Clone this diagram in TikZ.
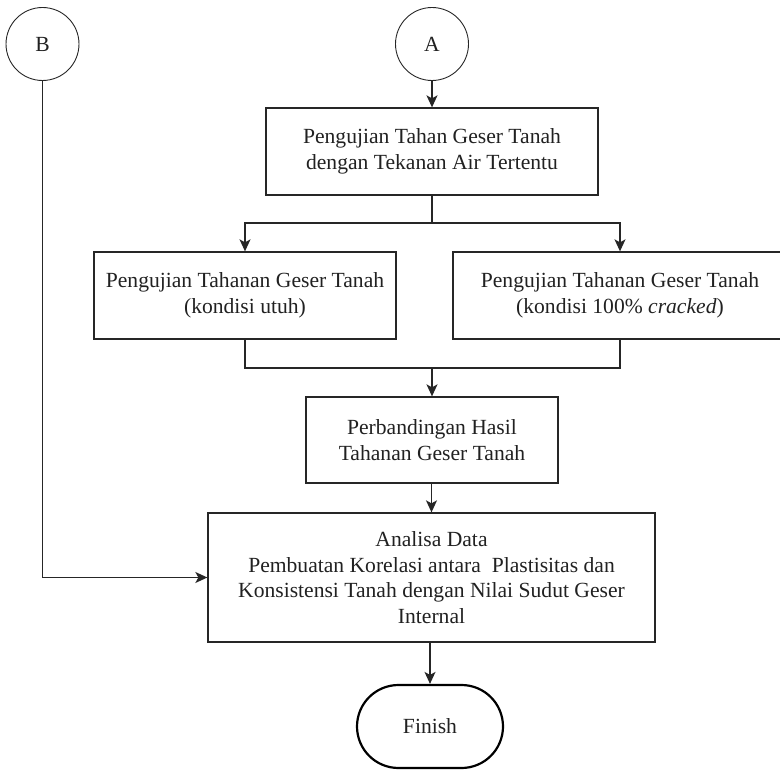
\documentclass[tikz,border=0pt]{standalone}
\usepackage{fontspec}
\setmainfont{Liberation Serif}
\usetikzlibrary{arrows.meta,shapes.misc}
\begin{document}
\begin{tikzpicture}[x=1pt,y=-1pt,
  every node/.style={font=\fontsize{21.6}{25.7}\selectfont, text=black!87, align=center, inner sep=0pt},
  procbox/.style={draw=black!85, line width=1.3pt, rectangle},
  conn/.style={draw=black!85, line width=1.3pt},
  arr/.style={conn, -{Stealth[length=12pt,width=11pt,inset=3pt]}},
  connector/.style={draw=black!85, line width=0.9pt, circle, minimum size=73pt},
  term/.style={draw=black, line width=2.2pt, rounded rectangle, minimum width=146pt, minimum height=83pt}
]
\useasboundingbox (0,0) rectangle (780,770);
\node[connector] (B) at (42.5,44) {B};
\node[connector] (A) at (432,44) {A};
\node[procbox, minimum width=332pt, minimum height=87pt] (p1) at (432,151.5)
  {Pengujian Tahan Geser Tanah\\dengan Tekanan Air Tertentu};
\node[procbox, minimum width=302pt, minimum height=87pt] (pl) at (245,295.5)
  {Pengujian Tahanan Geser Tanah\\(kondisi utuh)};
\node[procbox, minimum width=334pt, minimum height=87pt] (pr) at (620,295.5)
  {Pengujian Tahanan Geser Tanah\\(kondisi 100\% \textit{cracked})};
\node[procbox, minimum width=252pt, minimum height=86pt] (p3) at (432,440)
  {Perbandingan Hasil\\Tahanan Geser Tanah};
\node[procbox, minimum width=447pt, minimum height=129pt] (p4) at (431.5,577.5)
  {Analisa Data\\Pembuatan Korelasi antara\ \ Plastisitas dan\\Konsistensi Tanah dengan Nilai Sudut Geser\\Internal};
\node[term] (fin) at (430,726.5) {Finish};
\coordinate (j1) at (432,223);
\coordinate (j2) at (432,368);
\draw[arr] (A) -- (p1);
\draw[conn] (p1.south) -- (j1);
\draw[arr] (j1) -| (pl.north);
\draw[arr] (j1) -| (pr.north);
\draw[conn] (pl.south) |- (j2) -| (pr.south);
\draw[arr] (j2) -- (p3.north);
\draw[arr] (p3.south -| p4.north) -- (p4.north);
\draw[arr] (p4.south -| fin.north) -- (fin.north);
\draw[arr] (B.south) |- (p4.west);
\end{tikzpicture}
\end{document}
